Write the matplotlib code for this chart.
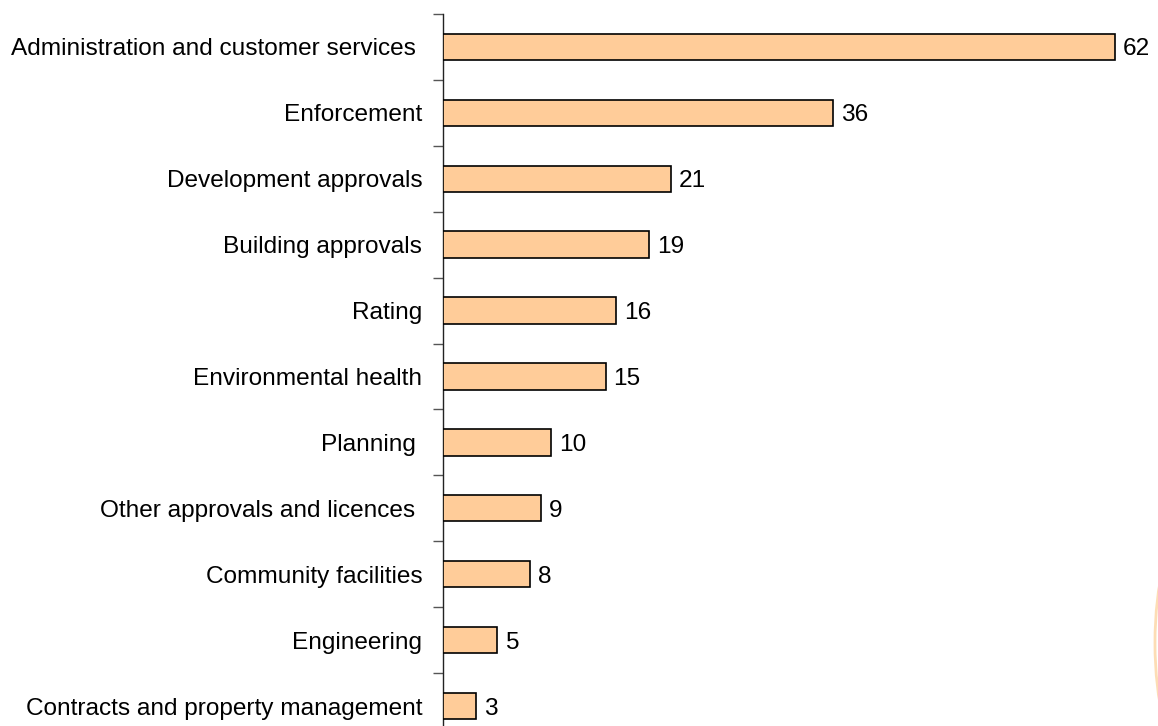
import numpy as np
import matplotlib
matplotlib.use("Agg")
import matplotlib.pyplot as plt
from matplotlib.patches import Ellipse

# Categories top to bottom, with the values shown next to each bar
categories = [
    "Administration and customer services ",
    "Enforcement",
    "Development approvals",
    "Building approvals",
    "Rating",
    "Environmental health",
    "Planning ",
    "Other approvals and licences ",
    "Community facilities",
    "Engineering",
    "Contracts and property management",
]
values = [62, 36, 21, 19, 16, 15, 10, 9, 8, 5, 3]

plt.rcParams['font.family'] = ['Liberation Sans', 'DejaVu Sans']
FS = 17.6

W, H = 1158, 726
fig = plt.figure(figsize=(W / 100, H / 100), dpi=100, facecolor='white')

# axes placed in pixel terms: spine at x=443, top at y=14, bottom runs off the image
left, top, bottom = 443, 14, 739
ax = fig.add_axes([left / W, (H - bottom) / H, (W - left) / W, (bottom - top) / H])

y = np.arange(len(categories))
ax.barh(y, values, height=0.4, color='#FFCC99', edgecolor='black', linewidth=1.2, zorder=3)

ax.set_xlim(0, (W - left) / 10.84)
ax.set_ylim(len(categories) - 0.5, -0.5)

for yi, v in zip(y, values):
    ax.annotate(f"{v}", (v, yi), xytext=(8, 0), textcoords='offset pixels',
                ha='left', va='center_baseline', fontsize=FS, color='black')

# labels at category centres, tick marks on category boundaries
ax.set_yticks(y)
ax.set_yticklabels(categories, fontsize=FS)
ax.tick_params(axis='y', which='major', length=0, pad=15)
ax.set_yticks(np.arange(-0.5, len(categories), 1), minor=True)
ax.tick_params(axis='y', which='minor', length=7, width=1, color='#555555', direction='out')

ax.set_xticks([])
for s in ['top', 'right', 'bottom']:
    ax.spines[s].set_visible(False)
ax.spines['left'].set_color('#222222')
ax.spines['left'].set_linewidth(1)

# faint decorative arc at the right edge
fig.patches.append(Ellipse((1185 / W, (H - 643) / H), 60 / W, 220 / H,
                           transform=fig.transFigure, fill=False,
                           edgecolor='#FDDDB5', linewidth=2))

fig.savefig("out.png", dpi=100, facecolor='white')
